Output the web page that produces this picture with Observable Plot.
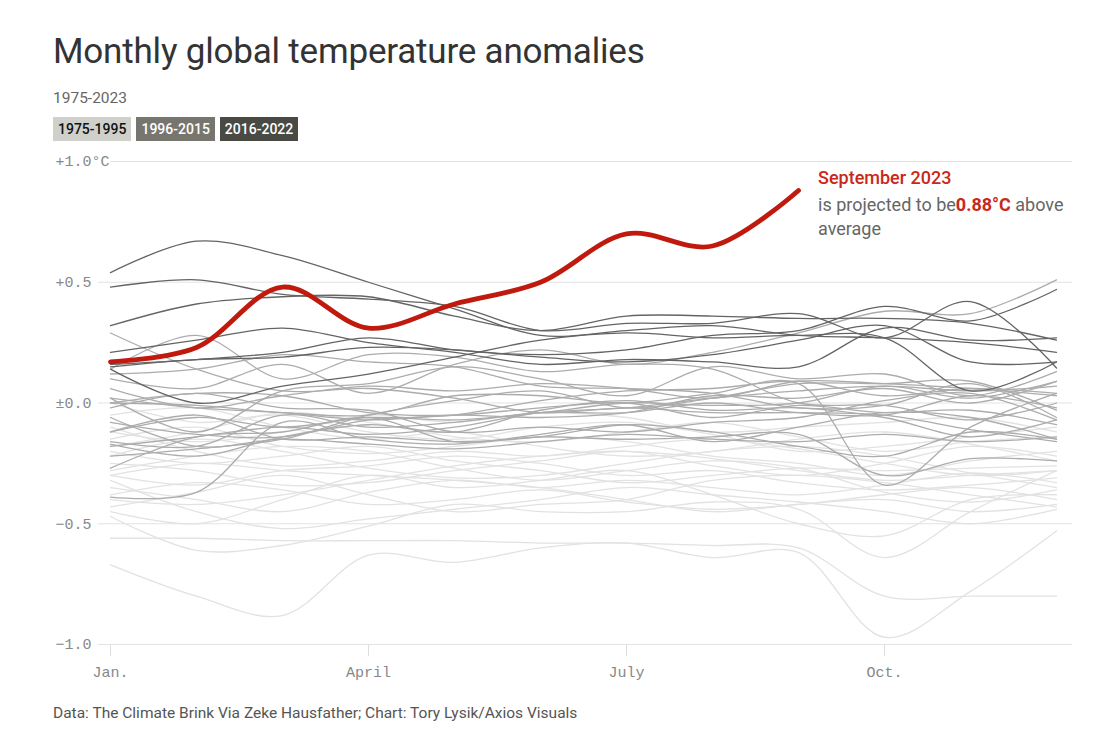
<!DOCTYPE html>
<html><head><meta charset="utf-8">
<script src="https://cdn.jsdelivr.net/npm/d3@7"></script>
<script src="https://cdn.jsdelivr.net/npm/@observablehq/plot@0.6"></script>
<style>
body{margin:0;background:#fff;font-family:Roboto,"Noto Sans",sans-serif;}
#wrap{position:relative;width:1103px;height:751px;overflow:hidden;}
#title{position:absolute;left:53px;top:31px;font-size:35px;color:#333;letter-spacing:-0.2px;}
#sub{position:absolute;left:53px;top:89px;font-size:15.5px;color:#666;}
#legend{position:absolute;left:53px;top:117px;display:flex;gap:5px;}
#legend span{display:inline-block;height:24px;line-height:24px;padding:0 5px;font-size:14px;font-weight:500;}
#chart{position:absolute;left:0;top:150px;}
#note{position:absolute;left:818px;top:166px;font-size:18px;color:#666;width:262px;}
#note div{height:24px;line-height:24px;white-space:nowrap;}
#note .hd{color:#c9281a;font-weight:500;height:27px;}
#note .v{color:#c9281a;font-weight:700;}
#foot{position:absolute;left:53px;top:704px;font-size:15.5px;color:#555;}
</style></head>
<body><div id="wrap">
<div id="title">Monthly global temperature anomalies</div>
<div id="sub">1975-2023</div>
<div id="legend"></div>
<div id="chart"></div>
<div id="note"><div class="hd"><span>September 2023</span></div><div><span>is projected to be</span><span class="v">0.88°C</span><span> above</span></div><div><span>average</span></div></div>
<div id="foot">Data: The Climate Brink Via Zeke Hausfather; Chart: Tory Lysik/Axios Visuals</div>
</div>
<script>
// ---- data ----
const months = [1,2,3,4,5,6,7,8,9,10,11,12];
const xTickValues = [1,4,7,10];
const xTickLabels = ["Jan.","April","July","Oct."];
const yTickValues = [1,0.5,0,-0.5,-1];
const yTickLabels = ["+1.0°C","+0.5","±0.0","−0.5","−1.0"];
const periods = ["1975-1995","1996-2015","2016-2022"];
const periodColors = ["#e2e2e2","#acacac","#646464"];
const legendBg = ["#d0d0cb","#76766f","#4a4a44"];
const legendFg = ["#111","#fff","#fff"];

const years1975_1995 = [1975,1976,1977,1978,1979,1980,1981,1982,1983,1984,1985,1986,1987,1988,1989,1990,1991,1992,1993,1994,1995];
const values1975_1995 = [
  [-0.30,-0.25,-0.28,-0.30,-0.32,-0.35,-0.40,-0.45,-0.42,-0.40,-0.45,-0.42],
  [-0.67,-0.80,-0.88,-0.63,-0.66,-0.60,-0.58,-0.64,-0.62,-0.97,-0.78,-0.53],
  [-0.56,-0.56,-0.57,-0.57,-0.57,-0.58,-0.58,-0.59,-0.60,-0.80,-0.80,-0.80],
  [-0.47,-0.61,-0.59,-0.51,-0.42,-0.45,-0.45,-0.41,-0.44,-0.64,-0.45,-0.28],
  [-0.45,-0.50,-0.40,-0.30,-0.35,-0.32,-0.28,-0.38,-0.50,-0.55,-0.40,-0.38],
  [-0.43,-0.37,-0.30,-0.38,-0.45,-0.42,-0.40,-0.32,-0.30,-0.33,-0.38,-0.43],
  [-0.30,-0.34,-0.28,-0.26,-0.22,-0.25,-0.30,-0.28,-0.33,-0.36,-0.34,-0.31],
  [-0.25,-0.28,-0.34,-0.33,-0.28,-0.24,-0.20,-0.26,-0.30,-0.25,-0.18,-0.22],
  [-0.22,-0.15,-0.20,-0.27,-0.31,-0.30,-0.25,-0.20,-0.18,-0.22,-0.29,-0.35],
  [-0.20,-0.25,-0.22,-0.18,-0.24,-0.28,-0.33,-0.30,-0.27,-0.28,-0.27,-0.26],
  [-0.15,-0.10,-0.18,-0.21,-0.18,-0.14,-0.16,-0.22,-0.25,-0.30,-0.24,-0.20],
  [-0.10,-0.20,-0.26,-0.24,-0.20,-0.22,-0.18,-0.15,-0.19,-0.25,-0.30,-0.28],
  [-0.05,-0.02,-0.10,-0.15,-0.12,-0.18,-0.22,-0.20,-0.15,-0.12,-0.17,-0.24],
  [0.00,-0.08,-0.05,-0.12,-0.15,-0.10,-0.08,-0.13,-0.20,-0.18,-0.14,-0.10],
  [-0.35,-0.40,-0.45,-0.37,-0.32,-0.35,-0.32,-0.35,-0.38,-0.34,-0.29,-0.33],
  [-0.28,-0.22,-0.18,-0.20,-0.27,-0.32,-0.28,-0.24,-0.27,-0.37,-0.41,-0.36],
  [-0.18,-0.12,-0.04,-0.08,-0.14,-0.16,-0.12,-0.08,-0.14,-0.20,-0.16,-0.14],
  [-0.40,-0.42,-0.38,-0.32,-0.26,-0.22,-0.20,-0.23,-0.28,-0.32,-0.30,-0.28],
  [-0.12,-0.16,-0.12,-0.05,-0.08,-0.04,-0.06,-0.12,-0.10,-0.08,-0.06,-0.12],
  [-0.32,-0.45,-0.52,-0.48,-0.44,-0.40,-0.35,-0.38,-0.41,-0.45,-0.50,-0.44],
  [-0.38,-0.33,-0.36,-0.42,-0.40,-0.36,-0.41,-0.44,-0.42,-0.38,-0.35,-0.40]
];

const years1996_2015 = [1996,1997,1998,1999,2000,2001,2002,2003,2004,2005,2006,2007,2008,2009,2010,2011,2012,2013,2014,2015];
const values1996_2015 = [
  [-0.12,-0.05,-0.15,-0.14,-0.16,-0.14,-0.09,-0.12,-0.18,-0.22,-0.12,-0.15],
  [-0.18,-0.14,-0.10,-0.13,-0.10,-0.04,-0.02,0.02,0.05,0.07,0.05,0.07],
  [0.14,0.28,0.10,0.20,0.19,0.13,0.16,0.14,0.00,-0.01,-0.07,0.00],
  [-0.06,-0.18,-0.15,-0.17,-0.19,-0.16,-0.13,-0.15,-0.16,-0.13,-0.16,-0.14],
  [-0.27,-0.14,-0.12,-0.06,-0.16,-0.14,-0.15,-0.14,-0.13,-0.30,-0.23,-0.24],
  [-0.16,-0.18,-0.05,-0.10,-0.08,-0.04,-0.04,0.00,-0.04,-0.05,0.03,-0.02],
  [0.00,0.04,0.03,-0.04,-0.05,-0.02,0.00,-0.06,-0.01,-0.04,-0.03,-0.09],
  [0.02,-0.02,-0.04,-0.07,-0.05,-0.06,-0.04,0.03,0.02,0.06,0.00,0.09],
  [-0.02,0.04,-0.02,-0.03,-0.12,-0.10,-0.12,-0.08,-0.06,0.01,0.04,-0.07],
  [0.06,-0.02,0.03,0.07,0.05,0.08,0.06,0.02,0.09,0.08,0.06,0.03],
  [-0.12,-0.06,-0.10,-0.06,-0.07,-0.04,0.00,-0.01,0.00,0.07,0.02,0.09],
  [0.29,0.14,0.05,0.06,0.02,-0.04,-0.02,-0.04,-0.04,-0.05,-0.11,-0.16],
  [-0.39,-0.37,-0.08,-0.15,-0.17,-0.13,-0.09,-0.16,-0.10,-0.04,-0.06,-0.15],
  [-0.08,-0.13,-0.14,-0.07,-0.05,0.01,0.05,0.06,0.09,0.03,0.06,0.04],
  [0.12,0.14,0.20,0.17,0.15,0.07,0.06,0.04,-0.02,-0.01,0.08,-0.06],
  [-0.17,-0.22,-0.14,-0.09,-0.12,-0.03,0.01,-0.03,-0.02,-0.06,-0.14,-0.07],
  [-0.22,-0.19,-0.15,-0.05,0.01,0.05,-0.02,0.02,0.08,0.08,0.09,-0.03],
  [0.00,-0.01,-0.04,-0.05,0.03,0.03,0.00,0.04,0.08,-0.34,-0.10,0.04],
  [0.02,-0.12,0.05,0.08,0.15,0.10,0.03,0.15,0.10,0.12,0.03,0.13],
  [0.10,0.06,0.16,0.04,0.16,0.22,0.16,0.21,0.29,0.38,0.37,0.51]
];

const years2016_2022 = [2016,2017,2018,2019,2020,2021,2022];
const values2016_2022 = [
  [0.54,0.67,0.61,0.50,0.39,0.28,0.30,0.32,0.28,0.27,0.25,0.21],
  [0.48,0.51,0.45,0.43,0.40,0.30,0.33,0.33,0.37,0.27,0.42,0.145],
  [0.32,0.41,0.44,0.44,0.36,0.30,0.36,0.36,0.35,0.35,0.33,0.26],
  [0.21,0.26,0.31,0.25,0.21,0.16,0.18,0.17,0.15,0.31,0.26,0.27],
  [0.14,0.00,0.07,0.12,0.19,0.26,0.29,0.27,0.28,0.27,0.05,0.17],
  [0.15,0.18,0.19,0.23,0.22,0.19,0.17,0.20,0.26,0.32,0.17,0.17],
  [0.16,0.18,0.21,0.27,0.22,0.20,0.22,0.28,0.30,0.40,0.34,0.47]
];

const year2023 = 2023;
const values2023 = [0.17,0.23,0.48,0.31,0.41,0.50,0.70,0.65,0.88];

// ---- build tidy table ----
function tidy(years, values, period) {
  const out = [];
  years.forEach((y, i) => values[i].forEach((v, m) => out.push({year: y, month: months[m], value: v, period})));
  return out;
}
const d1 = tidy(years1975_1995, values1975_1995, periods[0]);
const d2 = tidy(years1996_2015, values1996_2015, periods[1]);
const d3 = tidy(years2016_2022, values2016_2022, periods[2]);
const d23 = values2023.map((v, m) => ({year: year2023, month: months[m], value: v}));

// legend
const lg = document.getElementById("legend");
periods.forEach((p, i) => {
  const s = document.createElement("span");
  s.textContent = p; s.style.background = legendBg[i]; s.style.color = legendFg[i];
  lg.appendChild(s);
});

const lineOpts = {x: "month", y: "value", z: "year", curve: "catmull-rom", strokeWidth: 1.3};
const chart = Plot.plot({
  width: 1103, height: 560,
  marginLeft: 110, marginRight: 47, marginTop: 11, marginBottom: 66,
  x: {domain: [1, 12], axis: null},
  y: {domain: [-1, 1], axis: null},
  style: {fontFamily: "'Liberation Mono', monospace", fontSize: "15px", color: "#888", background: "transparent"},
  marks: [
    Plot.ruleY(yTickValues.filter(v => v !== 1), {stroke: "#e3e3e3", insetLeft: -12, insetRight: -16}),
    Plot.ruleY(yTickValues.filter(v => v === 1), {stroke: "#e3e3e3", insetRight: -16}),
    Plot.axisX({ticks: xTickValues, tickFormat: d => xTickLabels[xTickValues.indexOf(d)], tickSize: 12, tickPadding: 10, stroke: "#ddd", fill: "#888", label: null}),
    Plot.text(yTickValues, {y: d => d, text: d => yTickLabels[yTickValues.indexOf(d)], frameAnchor: "left", dx: -55, textAnchor: "start", fill: "#888"}),
    Plot.line(d1, {...lineOpts, stroke: periodColors[0]}),
    Plot.line(d2, {...lineOpts, stroke: periodColors[1]}),
    Plot.line(d3, {...lineOpts, stroke: periodColors[2]}),
    Plot.line(d23, {x: "month", y: "value", curve: "catmull-rom", stroke: "#bf1a0d", strokeWidth: 4.8, strokeLinecap: "round"})
  ]
});
document.getElementById("chart").appendChild(chart);
</script>
</body></html>
